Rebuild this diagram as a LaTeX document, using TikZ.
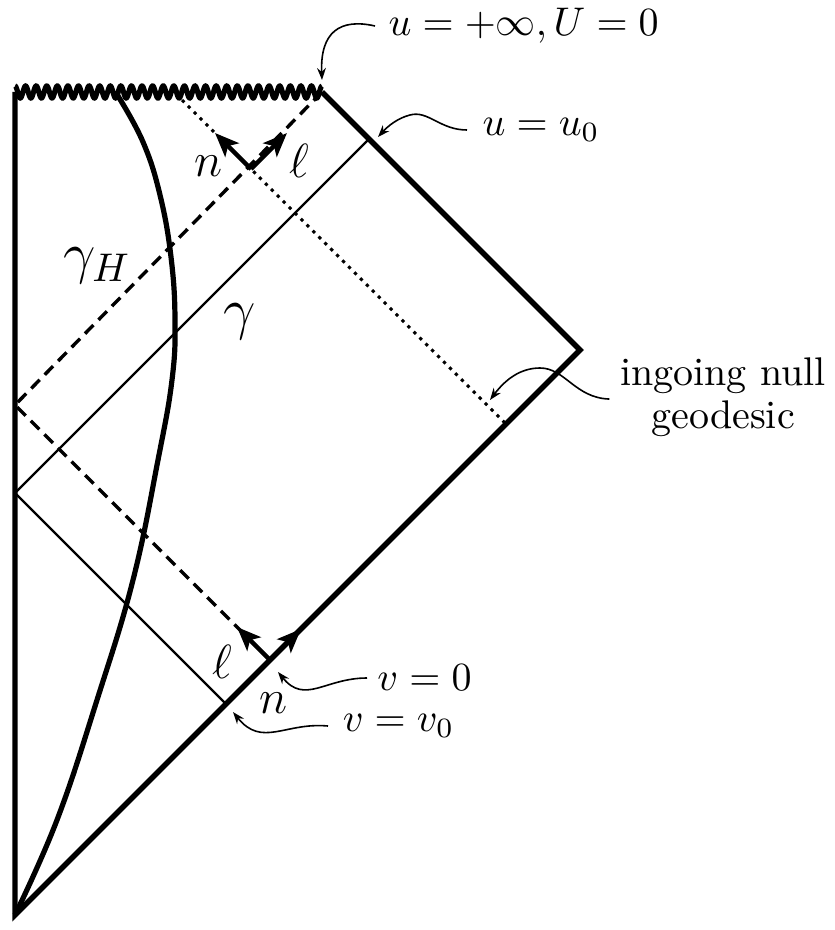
\documentclass[tikz,border=0pt]{standalone}
\usetikzlibrary{arrows.meta}
\begin{document}
\begin{tikzpicture}[x=0.25pt,y=-0.25pt,
  bound/.style={line width=1.35pt, line join=miter},
  thinline/.style={line width=0.6pt},
  horizon/.style={line width=0.85pt, dash pattern=on 3pt off 1.8pt},
  dotline/.style={line width=0.75pt, dash pattern=on 0.8pt off 1.3pt},
  leader/.style={line width=0.4pt, -{Stealth[length=3pt,width=2.2pt]}},
  vec/.style={line width=1.1pt, -{Stealth[length=6pt,width=4.8pt,inset=1.4pt]}},
  lab/.style={inner sep=0pt},
  biglab/.style={inner sep=0pt, font=\Large},
  veclab/.style={inner sep=0pt, font=\large},
]
\useasboundingbox (0,0) rectangle (834,930);
% corners
\coordinate (O) at (15,915);
\coordinate (TL) at (15,92);
\coordinate (TR) at (322,92);
\coordinate (R) at (580,350);
% null lines
\coordinate (A0) at (15,493);
\coordinate (U0) at (369,139);
\coordinate (V0) at (226,704);
\coordinate (H) at (15,405);
\coordinate (Hb) at (270,660);
\coordinate (D1) at (182,100);
\coordinate (D2) at (506,424);
\coordinate (C) at (251,169);
% singularity
\draw[line width=1.3pt] plot[domain=0:307, samples=700, smooth] ({15+\x},{92-6*cos(\x*34.0)});
% boundary
\draw[bound] (TR) -- (R) -- (O) -- (TL);
% thin lines
\draw[thinline] (U0) -- (A0) -- (V0);
% horizon (dashed)
\draw[horizon] (TR) -- (H) -- (Hb);
% ingoing null geodesic (dotted)
\draw[dotline] (D1) -- (D2);
% timelike curve
\draw[line width=1.3pt] plot[smooth, tension=0.7] coordinates {(15,915) (57,820) (97,700) (133,580) (158,460) (172,380) (175,320) (171,257) (160,195) (143,142) (118,96)};
% vectors
\coordinate (nt) at (215,133);
\coordinate (lt) at (287,133);
\coordinate (lb) at (237,627);
\coordinate (nb) at (301,629);
\draw[vec] (C) -- (nt);
\draw[vec] (C) -- (lt);
\draw[vec] (Hb) -- (lb);
\draw[vec] (Hb) -- (nb);
% labels
\node[veclab] (ntop) at (209,166) {$n$};
\node[veclab] (ltop) at (299,161) {$\ell$};
\node[veclab] (lbot) at (222,662) {$\ell$};
\node[veclab] (nbot) at (274,703) {$n$};
\node[biglab] (gH) at (97,266) {$\gamma_H$};
\node[biglab] (g) at (240,322) {$\gamma$};
\node[lab, anchor=west, inner xsep=3.2pt] (lab1) at (375,26) {$u=+\infty,U=0$};
\node[lab, anchor=west, inner xsep=3.7pt] (lab2) at (467,130) {$u=u_0$};
\node[lab, anchor=west, inner xsep=2.4pt] (lab3) at (367,678) {$v=0$};
\node[lab, anchor=west, inner xsep=3.5pt] (lab4) at (328,726) {$v=v_0$};
\node[lab, anchor=base] (ig1) at (723,385) {ingoing null};
\node[lab, anchor=base] (ig2) at (723,428) {geodesic};
% leaders
\coordinate (t1) at (322,80);
\coordinate (t2) at (378,137);
\coordinate (t3) at (278,672);
\coordinate (t4) at (233,712);
\coordinate (t5) at (490,400);
\draw[leader] (lab1.west) .. controls (340,18) and (320,32) .. (t1);
\draw[leader] (lab2.west) .. controls (440,130) and (428,110) .. (410,115) .. controls (398,118) and (388,126) .. (t2);
\draw[leader] (lab3.west) .. controls (325,678) and (305,705) .. (t3);
\draw[leader] (lab4.west) .. controls (285,722) and (262,748) .. (t4);
\draw[leader] ([shift={(-10,5)}]ig1.south west) .. controls (575,398) and (565,368) .. (540,368) .. controls (520,368) and (505,380) .. (t5);
\end{tikzpicture}
\end{document}
